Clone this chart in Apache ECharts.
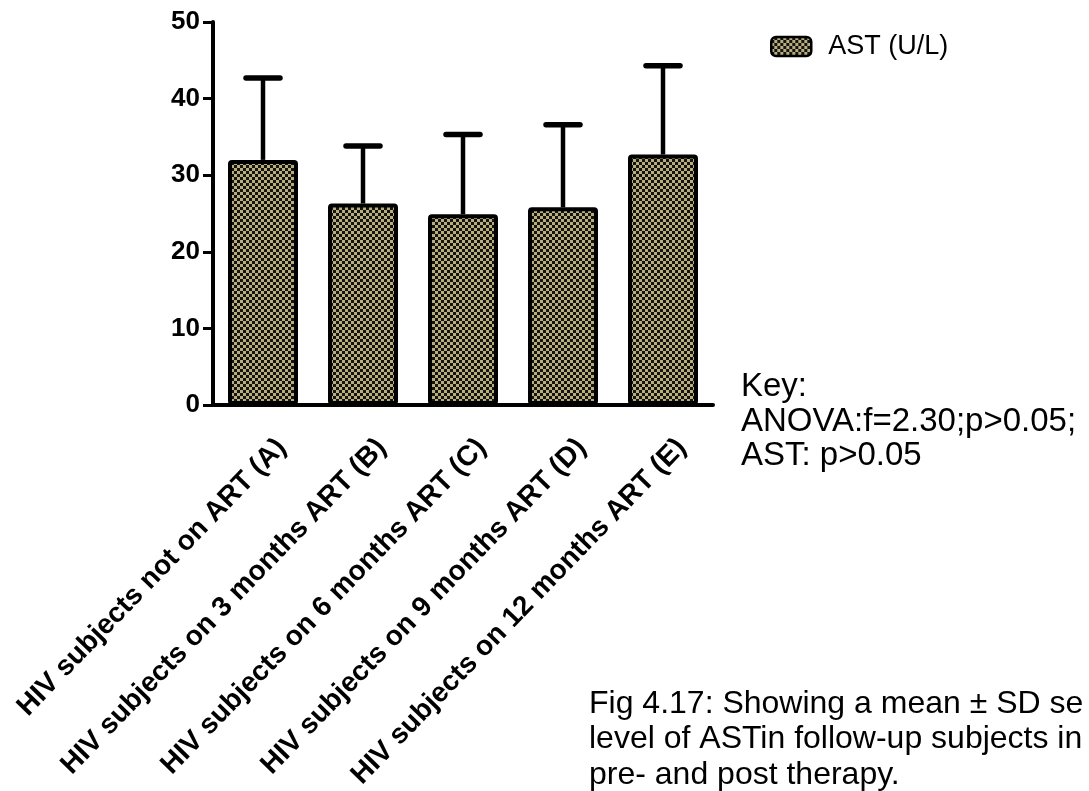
<!DOCTYPE html>
<html><head><meta charset="utf-8">
<script src="https://cdn.jsdelivr.net/npm/echarts@6/dist/echarts.min.js"></script>
<style>html,body{margin:0;padding:0;background:#fff;}#c{width:1089px;height:791px;}</style>
</head><body><div id="c"></div>
<script>
const categories = ['HIV subjects not on ART (A)','HIV subjects on 3 months ART (B)','HIV subjects on 6 months ART (C)','HIV subjects on 9 months ART (D)','HIV subjects on 12 months ART (E)'];
const meanValues = [32.0, 26.3, 24.9, 25.8, 32.7];
const sdValues = [10.7, 7.5, 10.4, 10.8, 11.6];
const yMin = 0, yMax = 50, yInterval = 10;
const seriesName = 'AST (U/L)';
const keyLines = ['Key:', 'ANOVA:f=2.30;p>0.05;', 'AST: p>0.05'];
const captionLines = ['Fig 4.17: Showing a mean \u00b1 SD se', 'level of ASTin follow-up subjects in', 'pre- and post therapy.'];

function makePattern(){
  const c = document.createElement('canvas'); c.width = 6; c.height = 6;
  const g = c.getContext('2d');
  g.fillStyle = '#141414'; g.fillRect(0,0,6,6);
  g.fillStyle = '#b9ad7c'; g.fillRect(0,0,3,3); g.fillRect(3,3,3,3);
  return c;
}
const pattern = {image: makePattern(), repeat: 'repeat'};
const FONT = '"Liberation Sans", Arial, sans-serif';

function textLines(lines, left, firstMiddle, step, size){
  return lines.map((t, k) => ({
    type: 'text', x: left, y: firstMiddle + k * step,
    style: {text: t, font: size + 'px ' + FONT, fill: '#000', verticalAlign: 'middle', align: 'left'}
  }));
}

const chart = echarts.init(document.getElementById('c'), null, {renderer:'canvas'});
chart.setOption({
  backgroundColor: '#fff',
  animation: false,
  grid: {left: 213, top: 22, width: 500, height: 383, containLabel: false, outerBoundsMode: 'none'},
  legend: {
    left: 765, top: 28, orient: 'vertical',
    itemWidth: 40, itemHeight: 19,
    icon: 'roundRect',
    itemStyle: {borderColor: '#000', borderWidth: 2.5},
    textStyle: {fontFamily: FONT, fontSize: 27, color: '#000', padding: [0, 0, 0, 12]},
    data: [seriesName]
  },
  xAxis: {
    type: 'category', data: categories,
    axisLine: {lineStyle: {color: '#000', width: 4}},
    axisTick: {alignWithLabel: true, length: 9, lineStyle: {color: '#000', width: 3}},
    axisLabel: {rotate: 46, interval: 0, margin: 20, verticalAlign: 'top', padding: [12, 0, 0, 0],
      color: '#000', fontFamily: FONT, fontWeight: 'bold', fontSize: 28}
  },
  yAxis: {
    type: 'value', min: yMin, max: yMax, interval: yInterval,
    splitLine: {show: false},
    axisLine: {show: true, lineStyle: {color: '#000', width: 4}},
    axisTick: {show: true, length: 10, lineStyle: {color: '#000', width: 3}},
    axisLabel: {margin: 13, color: '#000', fontFamily: FONT, fontWeight: 'bold', fontSize: 26}
  },
  graphic: textLines(keyLines, 741, 387, 34.5, 33).concat(textLines(captionLines, 589, 704, 35.5, 32)),
  series: [
    {
      name: seriesName, type: 'bar', data: meanValues, barWidth: '70%', z: 3,
      itemStyle: {color: pattern, borderColor: '#000', borderWidth: 4, borderRadius: 2}
    },
    {
      type: 'custom', z: 2, silent: true,
      data: meanValues.map((m, i) => [i, m, sdValues[i]]),
      renderItem: function(params, api){
        const i = api.value(0);
        const top = api.coord([i, api.value(1) + api.value(2)]);
        const base = api.coord([i, api.value(1)]);
        const half = 17;
        return {type: 'group', children: [
          {type: 'line', shape: {x1: top[0], y1: base[1], x2: top[0], y2: top[1]}, style: {stroke: '#000', lineWidth: 4.5}},
          {type: 'line', shape: {x1: top[0] - half, y1: top[1], x2: top[0] + half, y2: top[1]}, style: {stroke: '#000', lineWidth: 5.5, lineCap: 'round'}}
        ]};
      }
    }
  ]
});
</script></body></html>
